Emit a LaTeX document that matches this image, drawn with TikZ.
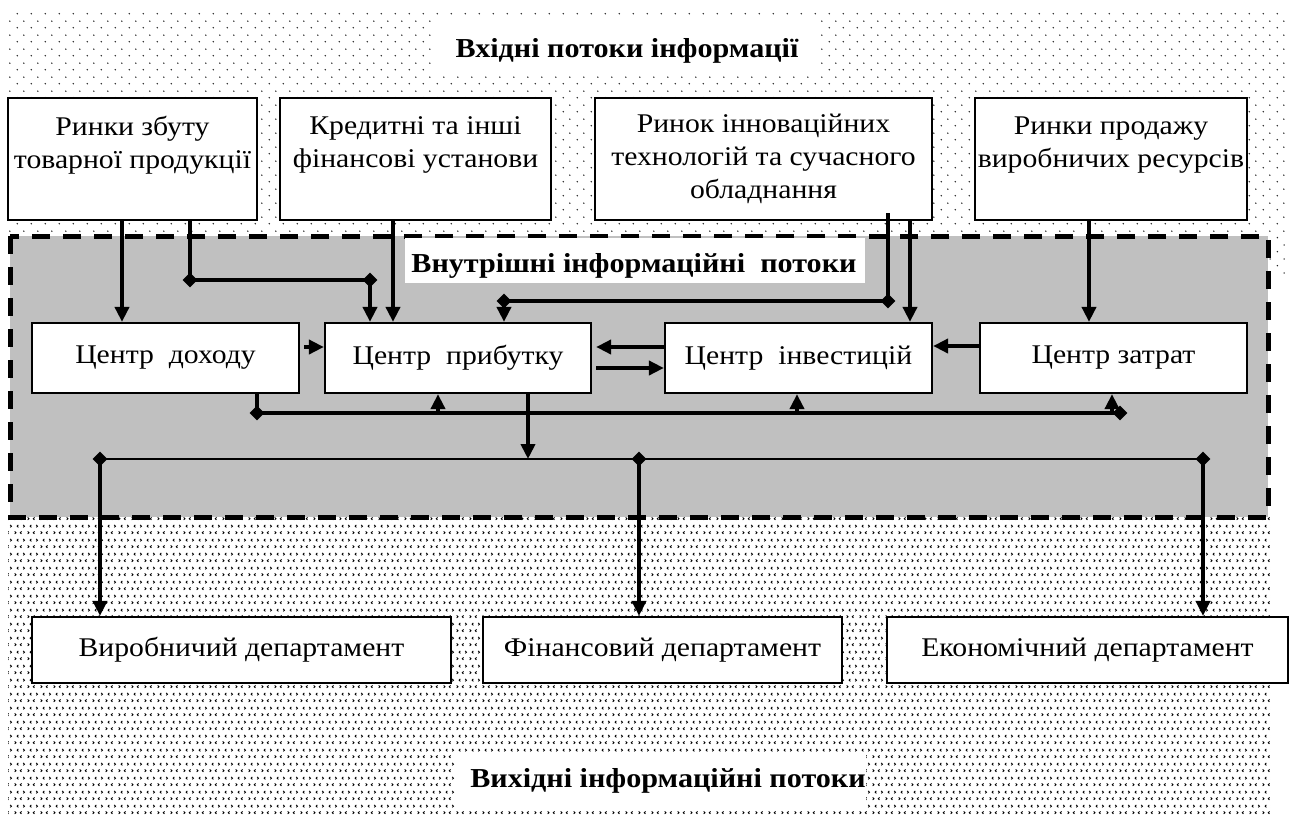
\documentclass[tikz,border=0pt]{standalone}
\usepackage{fontspec}
\setmainfont{Liberation Serif}[FakeStretch=1.1]
\newfontfamily\titlefont{Liberation Serif}[FakeStretch=1.1]
\usetikzlibrary{arrows.meta,shapes.geometric,patterns.meta}

\definecolor{areagray}{RGB}{192,192,192}

% Dotted fill of the input zone
\tikzdeclarepattern{
  name=indots,
  type=uncolored,
  bounding box={(0pt,0pt) and (7pt,7pt)},
  tile size={(7pt,7pt)},
  code={
    \fill (1.75pt,1.75pt) circle (0.42pt);
    \fill (5.25pt,5.25pt) circle (0.42pt);
  }
}

% Small marks of the output zone
\tikzdeclarepattern{
  name=outmarks,
  type=uncolored,
  bounding box={(0pt,0pt) and (6.5pt,7pt)},
  tile size={(6.5pt,7pt)},
  code={
    \draw[line width=0.45pt] (0.9pt,1.1pt) -- (1.6pt,1.75pt) -- (0.9pt,2.4pt);
    \draw[line width=0.45pt] (4.6pt,1.1pt) -- (3.9pt,1.75pt) -- (4.6pt,2.4pt);
    \draw[line width=0.45pt] (2.9pt,4.6pt) -- (2.2pt,5.25pt) -- (2.9pt,5.9pt);
    \draw[line width=0.45pt] (5.5pt,4.6pt) -- (6.2pt,5.25pt) -- (5.5pt,5.9pt);
  }
}

\begin{document}
\begin{tikzpicture}[x=0.5pt, y=-0.5pt,
    box/.style={draw, line width=1.1pt, fill=white, inner sep=1.5pt, align=center,
      font=\fontsize{13.5pt}{16.5pt}\selectfont},
    topbox/.style={box, minimum height=61pt},
    midbox/.style={box, minimum width=133.5pt, minimum height=35pt},
    depbox/.style={box, minimum height=33pt},
    flow/.style={line width=2pt, -{Triangle[width=7pt,length=7.5pt]}},
    wire/.style={line width=2pt},
    junction/.style={diamond, fill, inner sep=0pt, minimum size=7.5pt},
    heading/.style={font=\titlefont\bfseries\fontsize{13.7pt}{15pt}\selectfont}]

    \useasboundingbox (0,0) rectangle (1291,815);

    % Zones
    \fill[pattern=indots, pattern color=black!85] (8,8) rectangle (1285,236);
    \fill[pattern=indots, pattern color=black!85] (1268,236) rectangle (1285,275);
    \fill[pattern=outmarks] (8,517) rectangle (1270,815);
    \draw[line width=2.5pt, dash pattern=on 9pt off 6.5pt, fill=areagray] (10,236) rectangle (1268,517);

    % Zone titles
    \fill[white] (435,18) rectangle (820,75);
    \node[heading] (intitle) at (627,51) {Вхідні потоки інформації};
    \fill[white] (405,238) rectangle (865,283);
    \node[heading] (midtitle) at (634,266) {Внутрішні інформаційні~~потоки};
    \fill[white] (456,753) rectangle (866,808);
    \node[heading] (outtitle) at (668,781) {Вихідні інформаційні потоки};

    % Input sources
    \node[topbox, minimum width=124.5pt] (sales) at (132.5,159) {Ринки збуту\\товарної продукції\\\mbox{}};
    \node[topbox, minimum width=135.5pt] (credit) at (415.5,159) {Кредитні та інші\\фінансові установи\\\mbox{}};
    \node[topbox, minimum width=168.5pt] (innov) at (763.5,159) {Ринок інноваційних\\технологій та сучасного\\обладнання};
    \node[topbox, minimum width=136pt] (resources) at (1111,159) {Ринки продажу\\виробничих ресурсів\\\mbox{}};

    % Responsibility centres
    \node[midbox] (income) at (165.5,358) {Центр~~доходу};
    \node[midbox, minimum width=133pt] (profit) at (458,358) {Центр~~прибутку};
    \node[midbox] (invest) at (798.5,358) {Центр~~інвестицій};
    \node[midbox] (costs) at (1113.5,358) {Центр затрат};

    % Departments
    \node[depbox, minimum width=209.5pt] (prod) at (241.5,650) {Виробничий департамент};
    \node[depbox, minimum width=179.5pt] (fin) at (662.5,650) {Фінансовий департамент};
    \node[depbox, minimum width=200.5pt] (econ) at (1087.5,650) {Економічний департамент};

    % Inputs to the centres
    \coordinate (xa) at (122,0);
    \draw[flow] (xa |- sales.south) -- (xa |- income.north);

    \node[junction] (ja) at (190,280) {};
    \node[junction] (jb) at (370,280) {};
    \draw[wire] (ja |- sales.south) -- (ja.center) -- (jb.center);
    \draw[flow] (jb.center) -- (jb |- profit.north);

    \coordinate (xb) at (393,0);
    \draw[flow] (xb |- credit.south) -- (xb |- profit.north);

    \node[junction] (jc) at (888,301) {};
    \node[junction] (jd) at (504,301) {};
    \draw[wire] ([yshift=4pt]jc |- innov.south) -- (jc.center) -- (jd.center);
    \draw[flow] (jd.center) -- (jd |- profit.north);

    \coordinate (xc) at (910,0);
    \draw[flow] (xc |- innov.south) -- (xc |- invest.north);
    \coordinate (xd) at (1089,0);
    \draw[flow] (xd |- resources.south) -- (xd |- costs.north);

    % Flows between the centres
    \draw[flow, shorten <=2pt] ([yshift=5.5pt]income.east) -- ([yshift=5.5pt]profit.west);
    \draw[flow, shorten >=2pt] ([yshift=5.5pt]invest.west) -- ([yshift=5.5pt]profit.east);
    \draw[flow, shorten <=2pt] ([yshift=-5pt]profit.east) -- ([yshift=-5pt]invest.west);
    \draw[flow] ([yshift=6pt]costs.west) -- ([yshift=6pt]invest.east);

    % Feedback under the centres
    \node[junction] (je) at (257,413) {};
    \node[junction] (jf) at (1120,413) {};
    \draw[wire] (je |- income.south) -- (je.center) -- (jf.center);
    \coordinate (xe) at (438,413);
    \draw[flow] (xe) -- (xe |- profit.south);
    \coordinate (xf) at (797,413);
    \draw[flow] (xf) -- (xf |- invest.south);
    \coordinate (xg) at (1112,413);
    \draw[flow] (xg) -- (xg |- costs.south);

    % Outputs to the departments
    \node[junction] (jg) at (100,459) {};
    \node[junction] (jh) at (639,459) {};
    \node[junction] (ji) at (1203,459) {};
    \draw[line width=1pt] (jg.center) -- (ji.center);
    \coordinate (xh) at (528,459);
    \draw[flow] (xh |- profit.south) -- (xh);
    \draw[flow] (jg.center) -- (jg |- prod.north);
    \draw[flow] (jh.center) -- (jh |- fin.north);
    \draw[flow] (ji.center) -- (ji |- econ.north);
\end{tikzpicture}
\end{document}
